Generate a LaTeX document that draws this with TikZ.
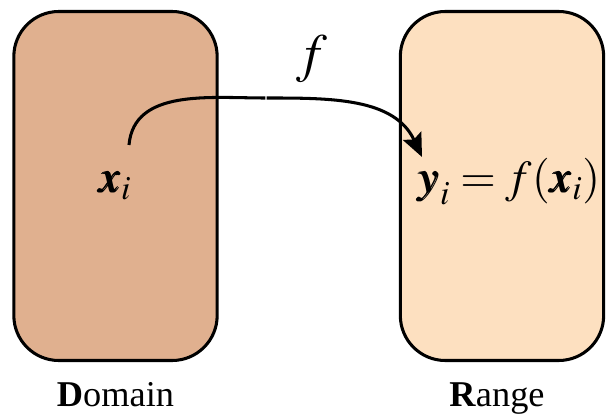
\documentclass[tikz,border=0pt]{standalone}
\usepackage{amsmath}
\usepackage{mathptmx}
\usepackage{bm}
\usepackage[no-math]{fontspec}
\setmainfont{Liberation Serif}
\usetikzlibrary{positioning, arrows.meta}
\definecolor{domFill}{HTML}{E0B08F}
\definecolor{rngFill}{HTML}{FDE0C0}

\begin{document}
\begin{tikzpicture}[x=0.03cm, y=0.03cm,
    set_box/.style={draw, line width=2.6pt, rounded corners=1.35cm, minimum width=6.1cm, minimum height=10.47cm},
    math_label/.style={font=\fontsize{39}{39}\selectfont, inner sep=0pt, anchor=base},
    set_label/.style={font=\fontsize{31}{31}\selectfont, inner sep=0pt},
    map_arrow/.style={line width=2.6pt}
]
\useasboundingbox (0,0) rectangle (607,414);

\node[set_box, fill=domFill] (dom) at (115.5,228) {};
\node[set_box, fill=rngFill] (rng) at (502,228) {};

\node[set_label, below=0.6cm of dom] (domlbl) {\textbf{D}omain};
\node[set_label, below=0.6cm of rng, xshift=-0.15cm] (rnglbl) {\textbf{R}ange};

\node[math_label] (xi) at (115,221) {$\bm{x}_i$};
\node[math_label] (yi) at (509,221) {$\bm{y}_i = f(\bm{x}_i)$};

% the map
\coordinate (src) at (129,269);
\coordinate (apex) at (266,316);
\coordinate (dst) at (422,257);
\draw[map_arrow, shorten >=0.6pt] (src) to[out=85, in=180] (apex);
\draw[map_arrow, shorten <=0.6pt, -{Stealth[length=0.7cm, width=0.6cm, inset=0.12cm]}] (apex) to[out=0, in=115] (dst);
\node[font=\fontsize{46}{46}\selectfont, inner sep=0pt] (flbl) at (312,355) {$f$};
\end{tikzpicture}
\end{document}
